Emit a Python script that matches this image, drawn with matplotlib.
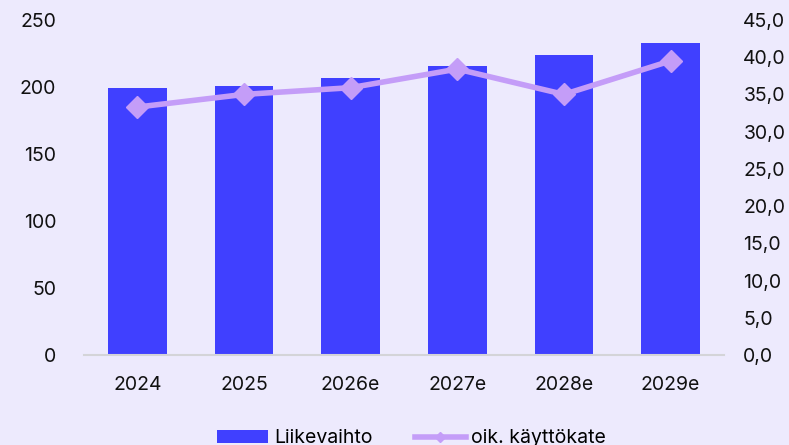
import matplotlib.pyplot as plt
from matplotlib.lines import Line2D
from matplotlib.ticker import FuncFormatter

years = ['2024', '2025', '2026e', '2027e', '2028e', '2029e']
revenue = [199, 201, 207, 216, 224, 233]
adj_ebitda = [33.3, 35.0, 35.9, 38.4, 35.0, 39.5]

bg = '#EDEAFD'
bar_color = '#4040FF'
line_color = '#C49DF8'

plt.rcParams['font.family'] = ['Inter', 'DejaVu Sans']

fig = plt.figure(figsize=(7.89, 4.45), dpi=100, facecolor=bg)
ax = fig.add_axes([0.1065, 0.2022, 0.811, 0.753])
ax.set_facecolor(bg)
x = range(len(years))
bars = ax.bar(x, revenue, width=0.55, color=bar_color, label='Liikevaihto', zorder=2)
ax.set_xlim(-0.5, len(years) - 0.5)
ax.set_ylim(0, 250)
ax.set_yticks(range(0, 251, 50))
ax.set_xticks(list(x))
ax.set_xticklabels(years)
ax.tick_params(length=0, labelsize=14, colors='#111111')
ax.tick_params(axis='y', pad=20)
ax.tick_params(axis='x', pad=15)
for s in ['top', 'left', 'right']:
    ax.spines[s].set_visible(False)
ax.spines['bottom'].set_color('#D4D4D8')
ax.spines['bottom'].set_linewidth(1.5)

ax2 = ax.twinx()
ax2.plot(x, adj_ebitda, color=line_color, lw=4, marker='D', ms=11, zorder=3)
ax2.set_ylim(0, 45)
ax2.set_yticks(range(0, 46, 5))
ax2.yaxis.set_major_formatter(FuncFormatter(lambda v, p: f'{v:.1f}'.replace('.', ',')))
ax2.tick_params(length=0, labelsize=14, colors='#111111', pad=14)
for s in ax2.spines.values():
    s.set_visible(False)

line_handle = Line2D([], [], color=line_color, lw=4, marker='D', ms=5)
fig.legend([bars, line_handle], ['Liikevaihto', 'oik. käyttökate'], loc='center',
           bbox_to_anchor=(0.522, 0.015), ncol=2, frameon=False, fontsize=14,
           handlelength=2.6, handletextpad=0.3, columnspacing=2.2)

fig.savefig('out.png', dpi=100, facecolor=bg)
